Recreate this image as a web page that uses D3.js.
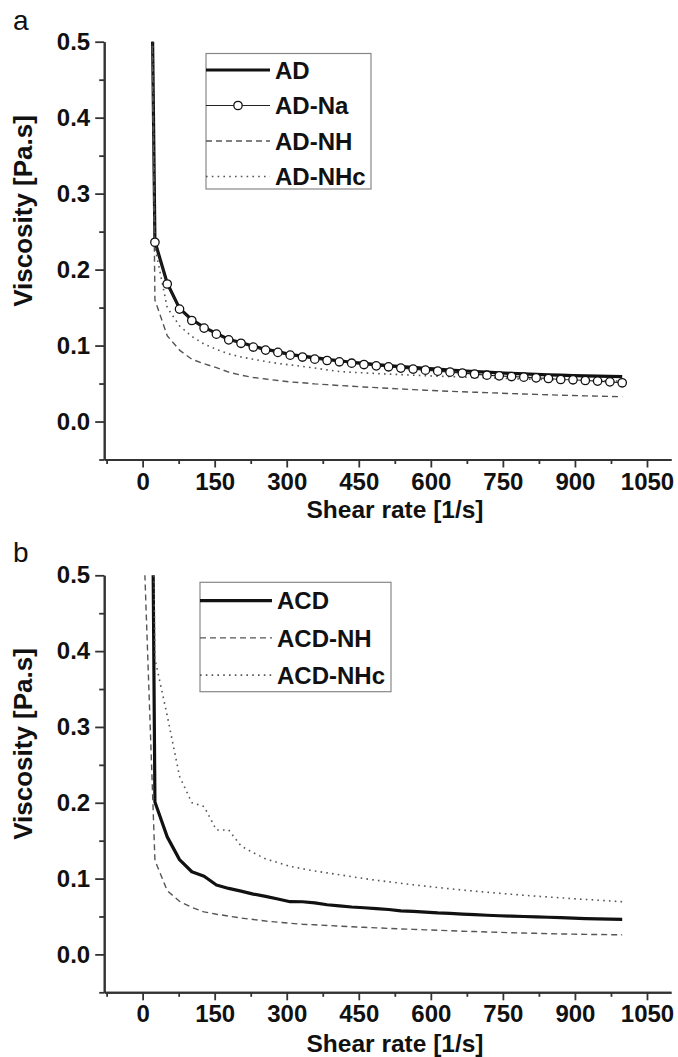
<!DOCTYPE html>
<html><head><meta charset="utf-8">
<script src="https://cdn.jsdelivr.net/npm/d3@7"></script>
<style>
body{margin:0;background:#fff}
text{font-family:"Liberation Sans",Arial,Helvetica,sans-serif}
</style></head>
<body><svg id="chart" width="678" height="1057"></svg>
<script>
// ---------- data ----------
const shearRate = [1, 25.6, 51.2, 76.8, 102.4, 128, 153.6, 179.2, 204.8, 230.4, 256, 281.6, 307.2, 332.8, 358.4, 384, 409.6, 435.2, 460.8, 486.4, 512, 537.6, 563.2, 588.8, 614.4, 640, 665.6, 691.2, 716.8, 742.4, 768, 793.6, 819.2, 844.8, 870.4, 896, 921.6, 947.2, 972.8, 998.4];

// panel a
const AD     = [1.585, 0.237, 0.182, 0.149, 0.134, 0.124, 0.116, 0.108, 0.104, 0.099, 0.095, 0.092, 0.088, 0.086, 0.084, 0.082, 0.080, 0.078, 0.0765, 0.075, 0.0736, 0.0724, 0.0712, 0.070, 0.0689, 0.0678, 0.0668, 0.0658, 0.0649, 0.0641, 0.0634, 0.0627, 0.0621, 0.0615, 0.061, 0.0605, 0.0601, 0.0597, 0.0594, 0.0591];
const AD_Na  = [1.5, 0.236, 0.181, 0.148, 0.133, 0.123, 0.115, 0.1075, 0.103, 0.098, 0.094, 0.091, 0.0874, 0.0849, 0.0821, 0.0803, 0.0786, 0.0768, 0.075, 0.0733, 0.072, 0.0703, 0.069, 0.0676, 0.0663, 0.065, 0.0637, 0.0624, 0.061, 0.0601, 0.0592, 0.0584, 0.0575, 0.0566, 0.0553, 0.0549, 0.054, 0.0532, 0.0522, 0.051];
const AD_NH  = [1.64, 0.16, 0.113, 0.094, 0.082, 0.076, 0.071, 0.065, 0.061, 0.058, 0.056, 0.054, 0.052, 0.051, 0.0495, 0.0485, 0.0474, 0.0465, 0.0455, 0.0446, 0.0437, 0.0428, 0.042, 0.0412, 0.0405, 0.0398, 0.0392, 0.0386, 0.038, 0.0374, 0.0368, 0.0362, 0.0357, 0.0352, 0.0347, 0.0342, 0.0338, 0.0334, 0.033, 0.0327];
const AD_NHc = [1.67, 0.23, 0.15, 0.126, 0.112, 0.102, 0.095, 0.089, 0.085, 0.082, 0.079, 0.0765, 0.0745, 0.0725, 0.0705, 0.068, 0.0658, 0.0648, 0.064, 0.0632, 0.0624, 0.0617, 0.061, 0.0603, 0.0597, 0.0591, 0.0585, 0.058, 0.0575, 0.057, 0.0565, 0.056, 0.0556, 0.0552, 0.0548, 0.0544, 0.054, 0.0537, 0.0534, 0.0531];

// panel b
const ACD     = [2.24, 0.201, 0.155, 0.125, 0.109, 0.103, 0.0915, 0.087, 0.0835, 0.0795, 0.0765, 0.073, 0.0695, 0.0694, 0.068, 0.0655, 0.064, 0.0625, 0.0615, 0.0603, 0.0592, 0.0575, 0.0568, 0.0558, 0.0547, 0.054, 0.0532, 0.0524, 0.0516, 0.051, 0.0505, 0.05, 0.0495, 0.049, 0.0484, 0.0478, 0.0473, 0.0469, 0.0465, 0.0462];
const ACD_NH  = [0.567, 0.124, 0.084, 0.07, 0.062, 0.056, 0.053, 0.0505, 0.048, 0.046, 0.044, 0.0425, 0.041, 0.0398, 0.039, 0.0382, 0.0373, 0.0365, 0.0357, 0.035, 0.0343, 0.0336, 0.033, 0.0324, 0.0318, 0.0312, 0.0306, 0.0301, 0.0296, 0.0291, 0.0286, 0.0282, 0.0278, 0.0274, 0.027, 0.0267, 0.0264, 0.0262, 0.026, 0.0258];
const ACD_NHc = [1.67, 0.39, 0.315, 0.235, 0.2, 0.195, 0.164, 0.164, 0.143, 0.134, 0.126, 0.121, 0.116, 0.113, 0.11, 0.1075, 0.105, 0.1025, 0.1, 0.0978, 0.0958, 0.0938, 0.0918, 0.09, 0.0882, 0.0865, 0.0849, 0.0834, 0.082, 0.0806, 0.0793, 0.078, 0.0768, 0.0757, 0.0746, 0.0735, 0.0725, 0.0715, 0.0705, 0.0695];

const xTicks = [0, 150, 300, 450, 600, 750, 900, 1050];
const xMinorTicks = [-75, 75, 225, 375, 525, 675, 825, 975];
const yTicks = [0.0, 0.1, 0.2, 0.3, 0.4, 0.5];
const yMinorTicks = [-0.05, 0.05, 0.15, 0.25, 0.35, 0.45];
const xTitle = "Shear rate [1/s]";
const yTitle = "Viscosity [Pa.s]";

// ---------- styles ----------
const styles = {
  thick:  {stroke: "#111", width: 3.2, dash: null},
  thin:   {stroke: "#222", width: 1.1, dash: null},
  dashed: {stroke: "#555", width: 1.4, dash: "6,4"},
  dotted: {stroke: "#555", width: 1.6, dash: "1.6,4.2"}
};

const svg = d3.select("#chart");
const x = d3.scaleLinear().domain([-80, 1100]).range([104.2, 671]);

function drawPanel(p, idx) {
  const y = d3.scaleLinear().domain([-0.05, 0.5]).range([p.bottom, p.top]);
  const g = svg.append("g");

  // panel letter
  g.append("text").attr("x", 13).attr("y", p.letterY).attr("font-size", 28)
    .attr("fill", "#111").text(p.letter);

  // clip
  const cid = "clip" + idx;
  svg.append("defs").append("clipPath").attr("id", cid).append("rect")
    .attr("x", x(-80)).attr("y", y(0.5)).attr("width", x(1100) - x(-80)).attr("height", y(-0.05) - y(0.5));

  const plot = g.append("g").attr("clip-path", `url(#${cid})`);
  const line = d3.line().x((d, i) => x(shearRate[i])).y(d => y(d));

  p.series.forEach(s => {
    const st = styles[s.style];
    plot.append("path").datum(s.values).attr("d", line)
      .attr("fill", "none").attr("stroke", st.stroke).attr("stroke-width", st.width)
      .attr("stroke-dasharray", st.dash).attr("stroke-linejoin", "round");
  });
  p.series.filter(s => s.marker).forEach(s => {
    plot.selectAll(null).data(s.values).enter().append("circle")
      .attr("cx", (d, i) => x(shearRate[i])).attr("cy", d => y(d)).attr("r", 4.2)
      .attr("fill", "#fff").attr("stroke", "#111").attr("stroke-width", 1.3);
  });

  // axes
  const axColor = "#333";
  const xAxis = g.append("g").attr("transform", `translate(0,${p.bottom})`)
    .call(d3.axisBottom(x).tickValues(xTicks).tickSize(8).tickPadding(5).tickSizeOuter(0).tickFormat(d3.format("d")));
  const xMinor = g.append("g").attr("transform", `translate(0,${p.bottom})`)
    .call(d3.axisBottom(x).tickValues(xMinorTicks).tickSize(4.5).tickSizeOuter(0).tickFormat(""));
  const yAxis = g.append("g").attr("transform", `translate(${x(-80)},0)`)
    .call(d3.axisLeft(y).tickValues(yTicks).tickSize(9).tickPadding(5).tickSizeOuter(0).tickFormat(d3.format(".1f")));
  const yMinor = g.append("g").attr("transform", `translate(${x(-80)},0)`)
    .call(d3.axisLeft(y).tickValues(yMinorTicks).tickSize(5).tickSizeOuter(0).tickFormat(""));
  [xAxis, xMinor, yAxis, yMinor].forEach(a => {
    a.selectAll("path.domain").attr("stroke", axColor).attr("stroke-width", 2);
    a.selectAll(".tick line").attr("stroke", axColor).attr("stroke-width", 1.8);
    a.selectAll("text").attr("font-size", 24).attr("font-weight", "bold").attr("fill", "#111")
      .attr("font-family", '"Liberation Sans",Arial,sans-serif');
  });

  // axis titles
  g.append("text").attr("x", 395).attr("y", p.xTitleY).attr("text-anchor", "middle")
    .attr("font-size", 24.5).attr("font-weight", "bold").attr("fill", "#111").text(xTitle);
  g.append("text").attr("transform", `translate(32,${p.yTitleC}) rotate(-90)`).attr("text-anchor", "middle")
    .attr("font-size", 26).attr("font-weight", "bold").attr("fill", "#111").text(yTitle);

  // legend
  const L = p.legend;
  g.append("rect").attr("x", L.x).attr("y", L.y).attr("width", L.w).attr("height", L.h)
    .attr("fill", "#fff").attr("stroke", "#888").attr("stroke-width", 1.2);
  p.series.forEach((s, i) => {
    const st = styles[s.style];
    const cy = L.firstRow + i * L.rowGap;
    g.append("line").attr("x1", L.x).attr("x2", L.x + L.lineLen).attr("y1", cy).attr("y2", cy)
      .attr("stroke", st.stroke).attr("stroke-width", st.width).attr("stroke-dasharray", st.dash);
    if (s.marker) g.append("circle").attr("cx", L.x + L.lineLen / 2).attr("cy", cy).attr("r", 4.2)
      .attr("fill", "#fff").attr("stroke", "#111").attr("stroke-width", 1.3);
    g.append("text").attr("x", L.x + L.lineLen + 5).attr("y", cy).attr("dy", "0.36em")
      .attr("font-size", 24).attr("font-weight", "bold").attr("fill", "#111").text(s.name);
  });
}

drawPanel({
  letter: "a", letterY: 30, top: 41.7, bottom: 459.5, xTitleY: 518, yTitleC: 211,
  legend: {x: 206, y: 53.5, w: 165, h: 135.5, firstRow: 70, rowGap: 35.5, lineLen: 64},
  series: [
    {name: "AD", values: AD, style: "thick"},
    {name: "AD-Na", values: AD_Na, style: "thin", marker: true},
    {name: "AD-NH", values: AD_NH, style: "dashed"},
    {name: "AD-NHc", values: AD_NHc, style: "dotted"}
  ]
}, 0);

drawPanel({
  letter: "b", letterY: 562, top: 575.3, bottom: 992.3, xTitleY: 1052, yTitleC: 744,
  legend: {x: 200, y: 582.3, w: 191, h: 109.4, firstRow: 600.7, rowGap: 37.2, lineLen: 72},
  series: [
    {name: "ACD", values: ACD, style: "thick"},
    {name: "ACD-NH", values: ACD_NH, style: "dashed"},
    {name: "ACD-NHc", values: ACD_NHc, style: "dotted"}
  ]
}, 1);
</script>
</body></html>
